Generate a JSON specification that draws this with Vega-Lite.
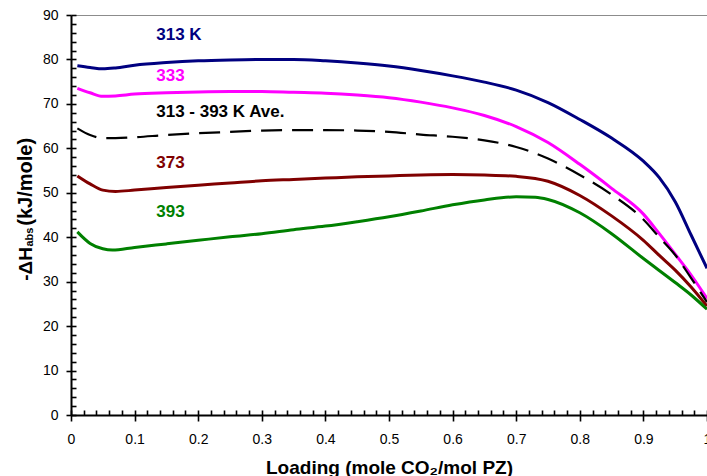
{
  "$schema": "https://vega.github.io/schema/vega-lite/v6.json",
  "width": 636,
  "height": 400,
  "autosize": "none",
  "padding": {"left": 71, "top": 15, "right": 0, "bottom": 61},
  "config": {
    "view": {"stroke": null},
    "font": "Liberation Sans",
    "axis": {"grid": false, "domainColor": "#000000", "tickColor": "#000000", "labelColor": "#000000", "titleColor": "#000000", "labelFont": "Liberation Sans", "titleFont": "Liberation Sans", "labelFontSize": 14, "titleFontSize": 19, "titleFontWeight": "bold", "domainWidth": 2, "tickWidth": 1.6}
  },
  "datasets": {
    "curves": [
      {"series": "313 K", "loading": 0.01, "dH": 78.6},
      {"series": "313 K", "loading": 0.03, "dH": 78.2},
      {"series": "313 K", "loading": 0.05, "dH": 77.9},
      {"series": "313 K", "loading": 0.07, "dH": 78.1},
      {"series": "313 K", "loading": 0.1, "dH": 78.7},
      {"series": "313 K", "loading": 0.15, "dH": 79.3},
      {"series": "313 K", "loading": 0.2, "dH": 79.7},
      {"series": "313 K", "loading": 0.25, "dH": 79.9},
      {"series": "313 K", "loading": 0.3, "dH": 80.0},
      {"series": "313 K", "loading": 0.35, "dH": 80.0},
      {"series": "313 K", "loading": 0.4, "dH": 79.7},
      {"series": "313 K", "loading": 0.45, "dH": 79.2},
      {"series": "313 K", "loading": 0.5, "dH": 78.5},
      {"series": "313 K", "loading": 0.55, "dH": 77.5},
      {"series": "313 K", "loading": 0.6, "dH": 76.3},
      {"series": "313 K", "loading": 0.65, "dH": 74.9},
      {"series": "313 K", "loading": 0.7, "dH": 73.1},
      {"series": "313 K", "loading": 0.75, "dH": 70.3},
      {"series": "313 K", "loading": 0.8, "dH": 66.5},
      {"series": "313 K", "loading": 0.85, "dH": 62.3},
      {"series": "313 K", "loading": 0.9, "dH": 57.1},
      {"series": "313 K", "loading": 0.925, "dH": 53.4},
      {"series": "313 K", "loading": 0.95, "dH": 48.0},
      {"series": "313 K", "loading": 0.975, "dH": 40.5},
      {"series": "313 K", "loading": 1.0, "dH": 33.0},
      {"series": "333", "loading": 0.01, "dH": 73.5},
      {"series": "333", "loading": 0.03, "dH": 72.5},
      {"series": "333", "loading": 0.05, "dH": 71.7},
      {"series": "333", "loading": 0.07, "dH": 71.8},
      {"series": "333", "loading": 0.1, "dH": 72.2},
      {"series": "333", "loading": 0.15, "dH": 72.5},
      {"series": "333", "loading": 0.2, "dH": 72.7},
      {"series": "333", "loading": 0.25, "dH": 72.8},
      {"series": "333", "loading": 0.3, "dH": 72.8},
      {"series": "333", "loading": 0.35, "dH": 72.6},
      {"series": "333", "loading": 0.4, "dH": 72.4},
      {"series": "333", "loading": 0.45, "dH": 72.0},
      {"series": "333", "loading": 0.5, "dH": 71.4},
      {"series": "333", "loading": 0.55, "dH": 70.4},
      {"series": "333", "loading": 0.6, "dH": 69.1},
      {"series": "333", "loading": 0.65, "dH": 67.4},
      {"series": "333", "loading": 0.7, "dH": 64.9},
      {"series": "333", "loading": 0.75, "dH": 61.3},
      {"series": "333", "loading": 0.8, "dH": 56.4},
      {"series": "333", "loading": 0.85, "dH": 51.0},
      {"series": "333", "loading": 0.9, "dH": 45.2},
      {"series": "333", "loading": 0.925, "dH": 40.8},
      {"series": "333", "loading": 0.95, "dH": 36.2},
      {"series": "333", "loading": 0.975, "dH": 31.5},
      {"series": "333", "loading": 1.0, "dH": 26.2},
      {"series": "Ave", "loading": 0.01, "dH": 64.5},
      {"series": "Ave", "loading": 0.03, "dH": 63.0},
      {"series": "Ave", "loading": 0.05, "dH": 62.3},
      {"series": "Ave", "loading": 0.07, "dH": 62.3},
      {"series": "Ave", "loading": 0.1, "dH": 62.5},
      {"series": "Ave", "loading": 0.15, "dH": 63.0},
      {"series": "Ave", "loading": 0.2, "dH": 63.4},
      {"series": "Ave", "loading": 0.25, "dH": 63.7},
      {"series": "Ave", "loading": 0.3, "dH": 64.0},
      {"series": "Ave", "loading": 0.35, "dH": 64.1},
      {"series": "Ave", "loading": 0.4, "dH": 64.1},
      {"series": "Ave", "loading": 0.45, "dH": 64.0},
      {"series": "Ave", "loading": 0.5, "dH": 63.7},
      {"series": "Ave", "loading": 0.55, "dH": 63.1},
      {"series": "Ave", "loading": 0.6, "dH": 62.6},
      {"series": "Ave", "loading": 0.65, "dH": 61.8},
      {"series": "Ave", "loading": 0.7, "dH": 60.3},
      {"series": "Ave", "loading": 0.75, "dH": 57.7},
      {"series": "Ave", "loading": 0.8, "dH": 54.0},
      {"series": "Ave", "loading": 0.85, "dH": 49.6},
      {"series": "Ave", "loading": 0.9, "dH": 44.0},
      {"series": "Ave", "loading": 0.925, "dH": 40.0},
      {"series": "Ave", "loading": 0.95, "dH": 36.0},
      {"series": "Ave", "loading": 0.975, "dH": 30.8},
      {"series": "Ave", "loading": 1.0, "dH": 25.4},
      {"series": "373", "loading": 0.01, "dH": 53.8},
      {"series": "373", "loading": 0.03, "dH": 52.0},
      {"series": "373", "loading": 0.05, "dH": 50.6},
      {"series": "373", "loading": 0.07, "dH": 50.3},
      {"series": "373", "loading": 0.1, "dH": 50.6},
      {"series": "373", "loading": 0.15, "dH": 51.2},
      {"series": "373", "loading": 0.2, "dH": 51.7},
      {"series": "373", "loading": 0.25, "dH": 52.2},
      {"series": "373", "loading": 0.3, "dH": 52.7},
      {"series": "373", "loading": 0.35, "dH": 53.0},
      {"series": "373", "loading": 0.4, "dH": 53.3},
      {"series": "373", "loading": 0.45, "dH": 53.6},
      {"series": "373", "loading": 0.5, "dH": 53.8},
      {"series": "373", "loading": 0.55, "dH": 54.0},
      {"series": "373", "loading": 0.6, "dH": 54.1},
      {"series": "373", "loading": 0.65, "dH": 54.0},
      {"series": "373", "loading": 0.7, "dH": 53.7},
      {"series": "373", "loading": 0.75, "dH": 52.6},
      {"series": "373", "loading": 0.8, "dH": 49.4},
      {"series": "373", "loading": 0.85, "dH": 44.8},
      {"series": "373", "loading": 0.9, "dH": 39.3},
      {"series": "373", "loading": 0.925, "dH": 35.9},
      {"series": "373", "loading": 0.95, "dH": 32.6},
      {"series": "373", "loading": 0.975, "dH": 28.8},
      {"series": "373", "loading": 1.0, "dH": 24.5},
      {"series": "393", "loading": 0.01, "dH": 41.2},
      {"series": "393", "loading": 0.03, "dH": 38.6},
      {"series": "393", "loading": 0.05, "dH": 37.4},
      {"series": "393", "loading": 0.065, "dH": 37.1},
      {"series": "393", "loading": 0.1, "dH": 37.7},
      {"series": "393", "loading": 0.15, "dH": 38.5},
      {"series": "393", "loading": 0.2, "dH": 39.3},
      {"series": "393", "loading": 0.25, "dH": 40.1},
      {"series": "393", "loading": 0.3, "dH": 40.8},
      {"series": "393", "loading": 0.35, "dH": 41.7},
      {"series": "393", "loading": 0.4, "dH": 42.5},
      {"series": "393", "loading": 0.45, "dH": 43.5},
      {"series": "393", "loading": 0.5, "dH": 44.6},
      {"series": "393", "loading": 0.55, "dH": 45.9},
      {"series": "393", "loading": 0.6, "dH": 47.3},
      {"series": "393", "loading": 0.65, "dH": 48.4},
      {"series": "393", "loading": 0.7, "dH": 49.1},
      {"series": "393", "loading": 0.73, "dH": 49.0},
      {"series": "393", "loading": 0.75, "dH": 48.5},
      {"series": "393", "loading": 0.8, "dH": 45.5},
      {"series": "393", "loading": 0.85, "dH": 40.8},
      {"series": "393", "loading": 0.9, "dH": 35.2},
      {"series": "393", "loading": 0.95, "dH": 29.8},
      {"series": "393", "loading": 0.975, "dH": 27.0},
      {"series": "393", "loading": 1.0, "dH": 23.8}
    ],
    "labels": [
      {"series": "313 K", "label": "313 K", "loading": 0.134, "dH": 85.5},
      {"series": "333", "label": "333", "loading": 0.134, "dH": 76.2},
      {"series": "Ave", "label": "313 - 393 K Ave.", "loading": 0.134, "dH": 68.1},
      {"series": "373", "label": "373", "loading": 0.134, "dH": 56.7},
      {"series": "393", "label": "393", "loading": 0.134, "dH": 45.7}
    ]
  },
  "resolve": {"axis": {"x": "independent", "y": "independent"}},
  "layer": [
    {
      "data": {"values": [{}]},
      "mark": {"type": "text", "text": ""},
      "encoding": {
        "x": {"datum": 0, "type": "quantitative", "scale": {"domain": [0, 1], "nice": false},
          "axis": {"orient": "bottom", "offset": -5, "values": [0, 0.02, 0.04, 0.06, 0.08, 0.1, 0.12, 0.14, 0.16, 0.18, 0.2, 0.22, 0.24, 0.26, 0.28, 0.3, 0.32, 0.34, 0.36, 0.38, 0.4, 0.42, 0.44, 0.46, 0.48, 0.5, 0.52, 0.54, 0.56, 0.58, 0.6, 0.62, 0.64, 0.66, 0.68, 0.7, 0.72, 0.74, 0.76, 0.78, 0.8, 0.82, 0.84, 0.86, 0.88, 0.9, 0.92, 0.94, 0.96, 0.98, 1], "tickSize": 5, "tickColor": "#000000", "tickWidth": 1.6, "labels": false, "domain": false, "title": null}},
        "y": {"datum": 0, "type": "quantitative", "scale": {"domain": [0, 90], "nice": false},
          "axis": {"orient": "left", "offset": -5, "values": [0, 2, 4, 6, 8, 10, 12, 14, 16, 18, 20, 22, 24, 26, 28, 30, 32, 34, 36, 38, 40, 42, 44, 46, 48, 50, 52, 54, 56, 58, 60, 62, 64, 66, 68, 70, 72, 74, 76, 78, 80, 82, 84, 86, 88, 90], "tickSize": 5, "tickColor": "#000000", "tickWidth": 1.6, "labels": false, "domain": false, "title": null}}
      }
    },
    {
      "data": {"name": "curves"},
      "transform": [{"filter": "datum.series !== 'Ave'"}],
      "mark": {"type": "line", "interpolate": "monotone", "strokeWidth": 3},
      "encoding": {
        "x": {"field": "loading", "type": "quantitative",
          "axis": {"orient": "bottom", "values": [0, 0.1, 0.2, 0.3, 0.4, 0.5, 0.6, 0.7, 0.8, 0.9, 1], "format": "~g", "tickSize": 6, "labelPadding": 11, "titlePadding": 12, "title": "Loading (mole CO₂/mol PZ)", "labelFlush": false, "labelOverlap": false}},
        "y": {"field": "dH", "type": "quantitative",
          "axis": {"orient": "left", "values": [0, 10, 20, 30, 40, 50, 60, 70, 80, 90], "tickSize": 5, "labelPadding": 8, "title": null, "labelFlush": false, "labelOverlap": false}},
        "color": {"field": "series", "type": "nominal", "scale": {"domain": ["313 K", "333", "Ave", "373", "393"], "range": ["#000080", "#FF00FF", "#000000", "#800000", "#008000"]}, "legend": null}
      }
    },
    {
      "data": {"name": "curves"},
      "transform": [{"filter": "datum.series === 'Ave'"}],
      "mark": {"type": "line", "interpolate": "monotone", "strokeWidth": 2.2, "strokeDash": [21, 10]},
      "encoding": {
        "x": {"field": "loading", "type": "quantitative", "axis": null},
        "y": {"field": "dH", "type": "quantitative", "axis": null},
        "color": {"field": "series", "type": "nominal", "legend": null}
      }
    },
    {
      "data": {"name": "labels"},
      "mark": {"type": "text", "align": "left", "baseline": "middle", "fontSize": 17, "fontWeight": "bold", "font": "Liberation Sans"},
      "encoding": {
        "x": {"field": "loading", "type": "quantitative", "axis": null},
        "y": {"field": "dH", "type": "quantitative", "axis": null},
        "text": {"field": "label"},
        "color": {"field": "series", "type": "nominal", "legend": null}
      }
    },
    {
      "data": {"values": [{}]},
      "mark": {"type": "text", "align": "right", "baseline": "alphabetic", "angle": 270, "fontSize": 19, "fontWeight": "bold", "font": "Liberation Sans", "color": "#000000", "text": "-ΔH"},
      "encoding": {
        "x": {"datum": -0.0618, "type": "quantitative",
          "axis": {"orient": "top", "domainColor": "#8c8c8c", "domainWidth": 1, "ticks": false, "labels": false, "title": null}},
        "y": {"datum": 37.8, "type": "quantitative", "axis": null}
      }
    },
    {
      "data": {"values": [{}]},
      "mark": {"type": "text", "align": "left", "baseline": "alphabetic", "angle": 270, "fontSize": 11, "fontWeight": "bold", "font": "Liberation Sans", "color": "#000000", "text": "abs"},
      "encoding": {
        "x": {"datum": -0.0598, "type": "quantitative", "axis": null},
        "y": {"datum": 37.9, "type": "quantitative", "axis": null}
      }
    },
    {
      "data": {"values": [{}]},
      "mark": {"type": "text", "align": "left", "baseline": "alphabetic", "angle": 270, "fontSize": 20, "fontWeight": "bold", "font": "Liberation Sans", "color": "#000000", "text": "(kJ/mole)"},
      "encoding": {
        "x": {"datum": -0.0618, "type": "quantitative", "axis": null},
        "y": {"datum": 42.6, "type": "quantitative", "axis": null}
      }
    }
  ]
}
